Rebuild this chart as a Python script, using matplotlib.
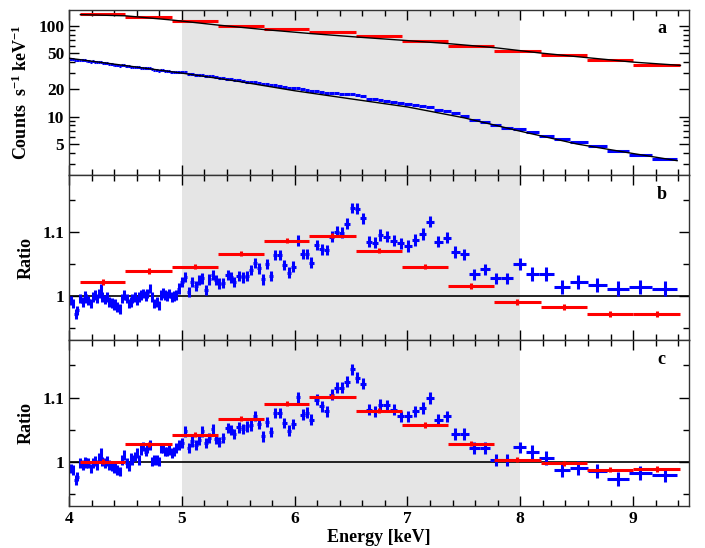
import numpy as np
import matplotlib
matplotlib.use("Agg")
import matplotlib.pyplot as plt
from matplotlib.ticker import FixedLocator, FixedFormatter, MultipleLocator

plt.rcParams['font.family'] = ['Liberation Serif', 'DejaVu Serif']
plt.rcParams['font.weight'] = 'bold'
plt.rcParams['mathtext.fontset'] = 'custom'
plt.rcParams['mathtext.rm'] = 'Liberation Serif:bold'
plt.rcParams['mathtext.bf'] = 'Liberation Serif:bold'
plt.rcParams['mathtext.default'] = 'bf'

# red (coarse) spectrum: bin edges in keV
red_edges = [4.10, 4.50, 4.91, 5.32, 5.73, 6.13, 6.54, 6.95, 7.36, 7.77, 8.18, 8.59, 9.00, 9.42]
red_counts = [133.6, 125.8, 111.9, 100.0, 91.2, 85.2, 76.9, 68.2, 60.7, 52.9, 47.4, 41.8, 37.1]
red_ratio_b = [1.0223, 1.0395, 1.0464, 1.0667, 1.0864, 1.0942, 1.0714, 1.0458, 1.0161,
               0.9911, 0.9833, 0.9723, 0.9723]
red_ratio_c = [1.0000, 1.0273, 1.0419, 1.0670, 1.0906, 1.1011, 1.0796, 1.0571, 1.0278,
               1.0027, 0.9975, 0.9870, 0.9885]
red_err = [0.004] * 13

# black model curves in panel a
red_model_e = [4.10, 4.50, 4.91, 5.32, 5.73, 6.13, 6.54, 6.95, 7.36, 7.77, 8.18, 8.59, 9.00, 9.42]
red_model = [133, 129, 116, 102, 91, 82.5, 75.5, 69.5, 63.8, 57.6, 50.2, 44.7, 39.9, 36.7]
blue_model_e = [4.0, 4.5, 5.0, 5.5, 6.0, 6.5, 7.0, 7.5, 8.0, 8.5, 9.0, 9.39]
blue_model = [44.0, 36.5, 30.2, 24.5, 19.3, 15.7, 12.8, 9.73, 6.92, 5.01, 3.93, 3.28]

# blue (fine) spectrum
blue_e = [4.015, 4.036, 4.057, 4.074, 4.101, 4.119, 4.139, 4.154, 4.172, 4.193,
          4.213, 4.231, 4.249, 4.266, 4.281, 4.296, 4.317, 4.335, 4.355, 4.376,
          4.394, 4.411, 4.429, 4.450, 4.471, 4.488, 4.509, 4.527, 4.545, 4.562,
          4.583, 4.601, 4.618, 4.639, 4.657, 4.678, 4.695, 4.716, 4.734, 4.754,
          4.775, 4.793, 4.814, 4.831, 4.852, 4.870, 4.888, 4.908, 4.929, 4.947,
          4.971, 5.000, 5.029, 5.059, 5.089, 5.124, 5.154, 5.177, 5.213, 5.242,
          5.272, 5.302, 5.331, 5.361, 5.405, 5.435, 5.464, 5.503, 5.539, 5.574,
          5.610, 5.645, 5.681, 5.716, 5.752, 5.787, 5.825, 5.867, 5.908,
          5.947, 5.988, 6.029, 6.071, 6.106, 6.147, 6.195, 6.240, 6.284, 6.328,
          6.373, 6.417, 6.464, 6.508, 6.553, 6.606, 6.662, 6.713,
          6.756, 6.815, 6.880, 6.940, 7.005, 7.067, 7.135, 7.200, 7.274, 7.348,
          7.422, 7.505, 7.594, 7.688, 7.783, 7.881, 7.993, 8.108, 8.230, 8.369,
          8.516, 8.679, 8.862, 9.057, 9.279]
blue_counts = [43.4, 42.9, 41.9, 41.8, 42.2, 41.7, 41.7, 41.4, 41.0, 40.4,
               40.6, 40.4, 39.9, 40.0, 40.1, 39.3, 38.8, 38.8, 38.2, 37.8,
               37.4, 37.3, 36.8, 36.4, 36.7, 36.7, 36.2, 35.7, 35.5, 35.5,
               35.3, 34.9, 34.8, 34.7, 34.5, 34.1, 34.0, 34.0, 33.4, 32.8,
               32.6, 32.2, 32.4, 32.4, 32.0, 31.7, 31.6, 31.2, 31.0, 30.9,
               30.9, 30.9, 30.7, 29.7, 29.7, 29.1, 29.0, 28.8, 27.9, 28.0,
               27.8, 27.3, 26.8, 26.5, 26.3, 25.9, 25.4, 25.2, 24.8, 24.4,
               24.2, 24.1, 23.5, 22.8, 22.9, 22.2, 22.5, 22.0, 21.3,
               20.7, 20.5, 20.9, 20.1, 19.8, 19.2, 19.3, 18.8, 18.4, 18.4,
               18.2, 17.8, 17.6, 17.7, 17.4, 16.8, 15.8, 15.5,
               15.4, 15.0, 14.5, 14.1, 13.7, 13.4, 13.0, 12.8, 11.9, 11.5,
               11.0, 10.3, 9.3, 8.8, 8.2, 7.6, 7.3, 6.75, 6.2, 5.65,
               5.2, 4.7, 4.2, 3.8, 3.4]
blue_ratio_b = [0.9937, 0.9885, 0.9728, 0.978, 0.9963, 0.9911, 1.0, 0.9963, 0.9937, 0.9885,
                0.999, 1.0016, 0.9963, 1.0042, 1.012, 0.999, 0.9948, 0.999, 0.9911, 0.9895,
                0.9859, 0.9885, 0.9833, 0.9806, 0.9963, 1.0016, 0.9963, 0.9885, 0.9911, 0.9963,
                0.999, 0.9937, 0.999, 1.0016, 1.0042, 1.0, 1.0042, 1.012, 0.999, 0.9885,
                0.9911, 0.9859, 1.0016, 1.0052, 1.0016, 1.0, 1.0042, 0.999, 1.0, 1.0016,
                1.0121, 1.0224, 1.0303, 1.0068, 1.0224, 1.0157, 1.0251, 1.0278, 1.0094, 1.0262,
                1.033, 1.0251, 1.0199, 1.0209, 1.033, 1.0294, 1.0224, 1.0314, 1.0294, 1.0314,
                1.0408, 1.0523, 1.0435, 1.0262, 1.0498, 1.0314, 1.0644, 1.0644, 1.0487,
                1.0366, 1.046, 1.0868, 1.0659, 1.0659, 1.0523, 1.0801, 1.0733, 1.0722, 1.0931,
                1.1009, 1.0994, 1.113, 1.1377, 1.1366, 1.122, 1.0852, 1.0837,
                1.0958, 1.0931, 1.0868, 1.0827, 1.0785, 1.0879, 1.0969, 1.1166, 1.0852, 1.0915,
                1.0695, 1.0655, 1.0341, 1.0419, 1.0278, 1.0278, 1.0502, 1.0345, 1.0345, 1.0146,
                1.0224, 1.0173, 1.0121, 1.0146, 1.0121]
blue_ratio_c = [0.9895, 0.9869, 0.9712, 0.9765, 0.9974, 0.9948, 1.0, 0.9974, 0.9974, 0.9895,
                0.9974, 1.001, 0.9948, 1.0052, 1.0131, 1.0, 0.9974, 1.001, 0.9948, 0.9922,
                0.9895, 0.9922, 0.9869, 0.9843, 1.0026, 1.0105, 0.9974, 0.9922, 1.0052, 1.0026,
                1.0078, 1.0131, 1.0026, 1.0183, 1.0235, 1.0157, 1.0209, 1.0262, 1.0, 1.0026,
                1.0026, 1.0, 1.0209, 1.0209, 1.0157, 1.0157, 1.0183, 1.0131, 1.0157, 1.0209,
                1.0262, 1.0289, 1.0471, 1.021, 1.0314, 1.0262, 1.0341, 1.0471, 1.0289, 1.0367,
                1.0513, 1.0356, 1.0305, 1.0367, 1.0524, 1.0498, 1.043, 1.0534, 1.0513, 1.0549,
                1.0565, 1.0706, 1.0587, 1.0392, 1.0618, 1.0461, 1.076, 1.076, 1.0603,
                1.0482, 1.0587, 1.1005, 1.0733, 1.076, 1.0655, 1.0969, 1.0863, 1.0785, 1.1047,
                1.1152, 1.1152, 1.1246, 1.144, 1.1309, 1.1215, 1.0812, 1.0785,
                1.089, 1.0879, 1.0812, 1.0706, 1.0706, 1.0785, 1.0838, 1.0995, 1.0655, 1.0706,
                1.043, 1.043, 1.021, 1.021, 1.0027, 1.0027, 1.022, 1.0148, 1.0053, 0.987,
                0.9896, 0.9854, 0.9728, 0.9818, 0.9791]
blue_err = [0.0075] * 50 + [0.008] * 29 + [0.0085] * 18 + [0.009] * 17 + [0.011] * 8

# bin half widths from the bin centres / edges
be = np.array(blue_e)
mids = (be[1:] + be[:-1]) / 2
b_lo = np.concatenate([[4.0], mids])
b_hi = np.concatenate([mids, [9.39]])
blue_xerr = [be - b_lo, b_hi - be]
re = np.array(red_edges)
red_c = (re[1:] + re[:-1]) / 2
red_xerr = (re[1:] - re[:-1]) / 2

BLUE = '#0000ff'
RED = '#ff0000'

fig, axes = plt.subplots(3, 1, sharex=True, figsize=(7.05, 5.48), dpi=100)
plt.subplots_adjust(left=0.098, right=0.978, top=0.982, bottom=0.077, hspace=0)
ax1, ax2, ax3 = axes

for ax in axes:
    ax.axvspan(5, 8, color='#e5e5e5', lw=0, zorder=0)
    ax.set_xlim(4, 9.5)
    ax.xaxis.set_major_locator(MultipleLocator(1))
    ax.xaxis.set_minor_locator(MultipleLocator(0.2))
    ax.tick_params(which='both', direction='in', top=True, right=True, labelsize=12.5)
    ax.tick_params(which='major', length=7, width=1)
    ax.tick_params(which='minor', length=4.5, width=1)
    for s in ax.spines.values():
        s.set_linewidth(1.0)
        s.set_color('#333333')

# panel a
ax1.set_yscale('log')
ax1.set_ylim(2.27, 150)
ax1.errorbar(be, blue_counts, xerr=blue_xerr, yerr=np.array(blue_counts) * 0.008,
             fmt='none', ecolor=BLUE, elinewidth=2.2, capsize=0, zorder=2)
ax1.errorbar(red_c, red_counts, xerr=red_xerr, yerr=np.array(red_counts) * 0.004,
             fmt='none', ecolor=RED, elinewidth=2.2, capsize=0, zorder=3)
ax1.plot(red_model_e, red_model, color='black', lw=1.0, zorder=4)
ax1.plot(blue_model_e, blue_model, color='black', lw=1.0, zorder=4)
ax1.yaxis.set_major_locator(FixedLocator([5, 10, 20, 50, 100]))
ax1.yaxis.set_major_formatter(FixedFormatter(['5', '10', '20', '50', '100']))
ax1.yaxis.set_minor_locator(FixedLocator([3, 4, 6, 7, 8, 9, 30, 40, 60, 70, 80, 90]))
ax1.yaxis.set_minor_formatter(FixedFormatter([''] * 12))
ax1.set_ylabel(r'Counts  s$^{-1}$ keV$^{-1}$', fontsize=13, fontweight='bold')
ax1.yaxis.set_label_coords(-0.062, 0.5)
ax1.text(0.955, 0.89, 'a', transform=ax1.transAxes, fontsize=13, fontweight='bold',
         ha='center', va='center')

# panels b and c
for ax, rb, rr, lab in [(ax2, blue_ratio_b, red_ratio_b, 'b'), (ax3, blue_ratio_c, red_ratio_c, 'c')]:
    ax.set_ylim(0.931, 1.189)
    ax.axhline(1.0, color='black', lw=1.2, zorder=1)
    ax.errorbar(be, rb, xerr=blue_xerr, yerr=blue_err, fmt='none', ecolor=BLUE,
                elinewidth=2.2, capsize=0, zorder=2)
    ax.errorbar(red_c, rr, xerr=red_xerr, yerr=red_err, fmt='none', ecolor=RED,
                elinewidth=2.2, capsize=0, zorder=3)
    ax.yaxis.set_major_locator(FixedLocator([1.0, 1.1]))
    ax.yaxis.set_major_formatter(FixedFormatter(['1', '1.1']))
    ax.yaxis.set_minor_locator(FixedLocator([0.95, 1.05, 1.15]))
    ax.set_ylabel('Ratio', fontsize=13, fontweight='bold')
    ax.yaxis.set_label_coords(-0.056, 0.5)
    ax.text(0.955, 0.885, lab, transform=ax.transAxes, fontsize=13, fontweight='bold',
            ha='center', va='center')

ax3.set_xlabel('Energy [keV]', fontsize=13, fontweight='bold', labelpad=2)
ax3.set_xticks([4, 5, 6, 7, 8, 9])
ax3.set_xticklabels(['4', '5', '6', '7', '8', '9'])

fig.savefig('out.png', dpi=100)
